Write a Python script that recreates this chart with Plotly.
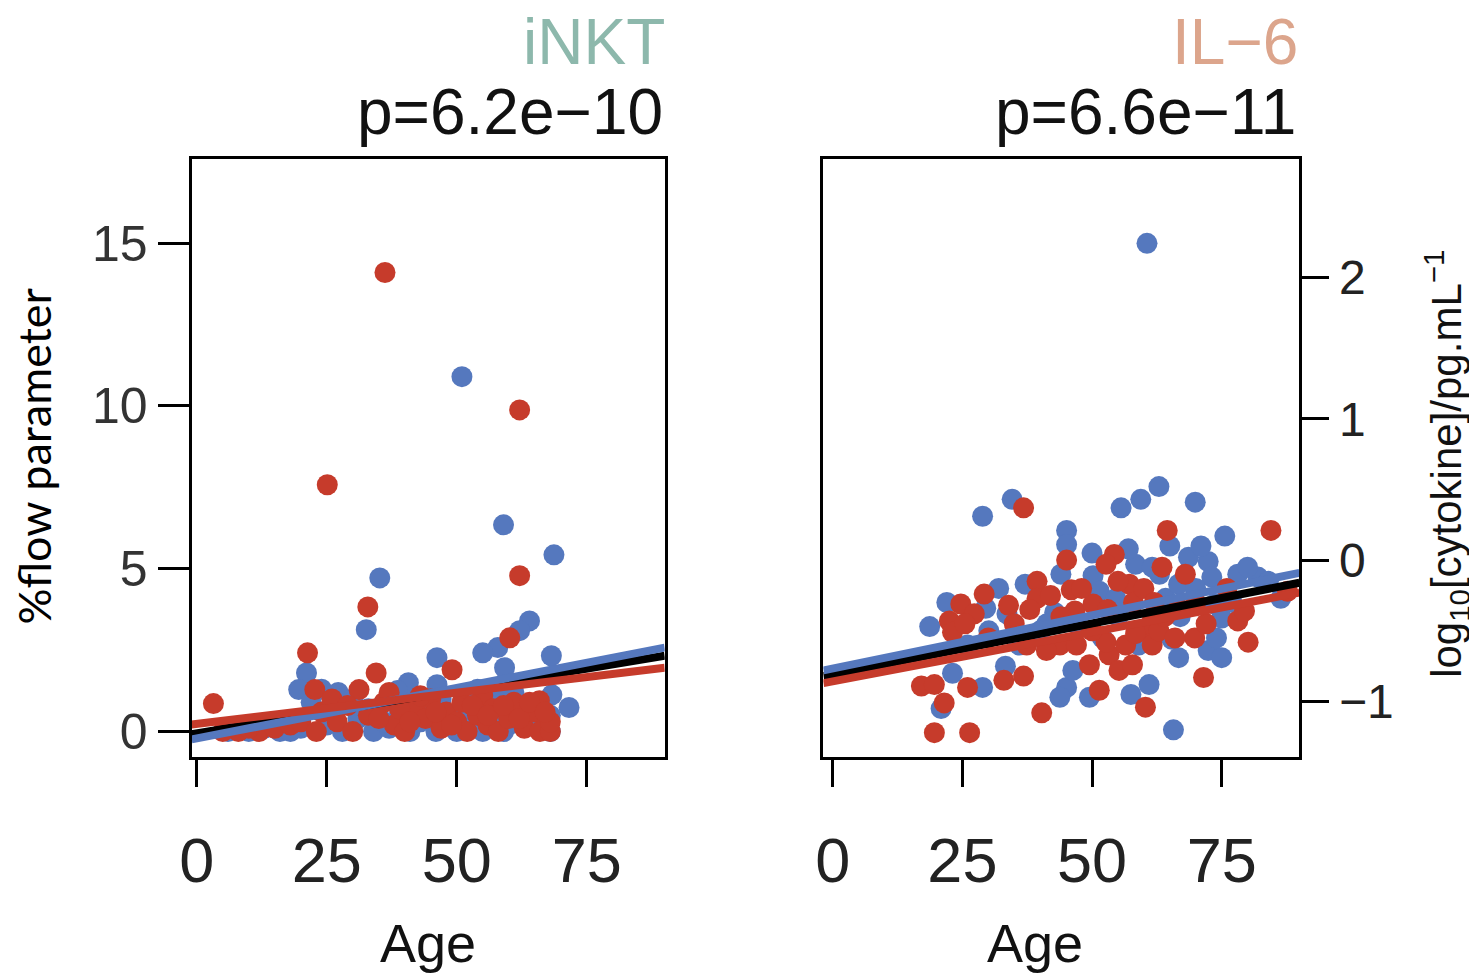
import plotly.graph_objects as go

# --- iNKT panel (left): age vs % flow parameter ---
inkt_red_age = [36.2, 25.1, 62.1, 62.1, 32.9, 3.2, 21.3, 34.5, 60.2, 49.1, 22.7, 31.2, 65.9,
                24, 27, 30, 33, 36, 38, 40, 42, 44, 45, 47, 48, 50, 51, 52, 54, 55, 56,
                57, 58, 60, 61, 63, 65, 66, 68, 68, 12, 15, 18, 8,
                26, 29, 35, 37, 39, 41, 43, 46, 49, 53, 56, 59, 62, 64, 67, 20, 23, 10, 5]
inkt_red_val = [14.1, 7.58, 9.88, 4.79, 3.83, 0.86, 2.42, 1.8, 2.88, 1.9, 1.29, 1.29, 0.95,
                0.6, 0.3, 0.0, 0.5, 0.9, 0.2, 0.0, 0.7, 0.4, 1.0, 0.1, 0.6, 0.3, 0.9, 0.0, 0.5, 1.1, 0.2,
                0.7, 0.0, 0.4, 0.9, 0.1, 0.6, 0.0, 0.0, 0.3, 0.0, 0.1, 0.2, 0.0,
                1.0, 0.8, 0.4, 1.2, 0.7, 0.3, 1.1, 0.6, 0.2, 0.8, 0.5, 0.8, 0.4, 0.9, 0.6, 0.3, 0.0, 0.1, 0.0]
inkt_blue_age = [51.0, 59.0, 68.7, 35.2, 32.6, 64.0, 62.1, 57.9, 55.0, 46.2, 68.2, 59.2, 21.1,
                 19.6, 27.2, 40.7, 38.6, 46.2, 71.6, 68.3,
                 22, 25, 28, 31, 34, 37, 39, 41, 43, 46, 49, 50, 53, 55, 57, 59, 61, 63,
                 65, 68, 68, 10, 16, 20,
                 24, 30, 33, 36, 40, 44, 47, 52, 54, 56, 58, 60, 62, 66, 67, 6, 13, 18]
inkt_blue_val = [10.9, 6.35, 5.43, 4.72, 3.13, 3.4, 3.1, 2.58, 2.42, 2.27, 2.33, 1.96, 1.8,
                 1.29, 1.2, 1.5, 1.26, 1.44, 0.74, 1.13,
                 0.9, 0.2, 0.0, 0.4, 0.0, 0.1, 0.6, 0.0, 0.3, 0.0, 0.5, 0.0, 0.8, 0.0, 0.3, 0.0, 1.2, 0.5,
                 0.2, 0.0, 0.5, 0.0, 0.0, 0.1,
                 1.3, 1.0, 0.7, 0.3, 0.9, 0.6, 1.0, 0.4, 1.3, 0.7, 1.1, 0.2, 0.8, 0.9, 0.1, 0.0, 0.1, 0.0]
inkt_fit_age = [-1, 90]
inkt_fit_all = [-0.08, 2.33]
inkt_fit_blue = [-0.24, 2.58]
inkt_fit_red = [0.22, 1.96]

# --- IL-6 panel (right): age vs log10 cytokine ---
il6_red_age = [19.6, 26.4, 84.5, 36.8, 64.5, 45.1, 54.3, 52.7, 63.5, 87.7, 39.4, 39.4, 46.0,
               57.2, 29.2, 24.7, 33.9, 22.5, 23.1, 46.7, 50.2, 61.6, 59.7, 78.1, 80.1, 71.5,
               17.1, 19.6, 21.5, 26.0, 33.0, 36.8, 40.3, 51.4, 49.5, 53.3, 55.2, 57.8, 60.3,
               43.8, 47.0, 37.4, 41.2, 52.7, 56.5, 58.4, 61.6, 62.9, 69.8, 66.7, 79.4, 27.3, 25.5,
               30, 35, 38, 42, 44, 48, 50, 53, 55, 58, 60, 62, 64, 66, 68, 70, 72, 76]
il6_red_val = [-1.22, -1.22, 0.21, 0.37, 0.21, 0.0, 0.04, -0.03, -0.05, -0.22, -0.15, -0.27, -0.21,
               -0.17, -0.24, -0.31, -0.32, -0.43, -0.51, -0.36, -0.31, -0.43, -0.5, -0.43, -0.58, -0.83,
               -0.89, -0.88, -1.01, -0.9, -0.85, -0.82, -1.08, -0.92, -0.74, -0.67, -0.78, -0.74, -1.04,
               -0.6, -0.6, -0.6, -0.64, -0.58, -0.6, -0.52, -0.6, -0.5, -0.55, -0.34, -0.36, -0.38, -0.45,
               -0.55, -0.45, -0.35, -0.25, -0.4, -0.2, -0.5, -0.35, -0.15, -0.3, -0.2, -0.3, -0.4, -0.55,
               -0.1, -0.3, -0.45, -0.2]
il6_blue_age = [60.6, 65.7, 28.9, 34.6, 55.6, 59.4, 62.9, 69.9, 75.6, 45.1, 45.1, 58.4, 61.6,
                68.6, 72.4, 73.1, 78.1, 82.0, 86.4, 37.1, 50.2, 51.4, 29.5, 33.6, 18.7, 42.8,
                41.3, 75.0, 65.4, 66.7, 72.4, 75.0, 20.9, 28.9, 33.3, 23.1, 45.1, 43.8, 49.5,
                46.3, 57.5, 61.0, 54.6, 64.2, 66.7, 73.7, 30.1,
                32, 36, 40, 44, 47, 50, 52, 55, 57, 59, 63, 65, 67, 70, 71, 74, 77, 80, 84, 26, 22]
il6_blue_val = [2.24, -1.2, 0.31, 0.43, 0.37, 0.43, 0.52, 0.41, 0.17, 0.21, 0.11, -0.03, -0.05,
                0.02, -0.01, -0.12, -0.1, -0.12, -0.27, -0.17, -0.11, -0.22, -0.34, -0.38, -0.47, -0.37,
                -0.45, -0.41, -0.56, -0.69, -0.64, -0.69, -1.05, -0.9, -0.75, -0.8, -0.9, -0.97, -0.97,
                -0.78, -0.95, -0.88, -0.27, -0.27, -0.17, -0.31, -0.5,
                -0.2, -0.6, -0.5, -0.1, -0.45, 0.05, -0.55, -0.4, 0.08, -0.6, -0.1, 0.1, -0.4, -0.2,
                0.1, -0.55, -0.3, -0.05, -0.15, -0.6, -0.3]
il6_fit_age = [-1.8, 90]
il6_fit_all = [-0.82, -0.16]
il6_fit_blue = [-0.78, -0.09]
il6_fit_red = [-0.87, -0.23]

RED = '#C63B2B'
BLUE = '#5578BE'
FONT = 'Liberation Sans, Arial, sans-serif'

# the page body adds a margin, so the figure is laid out in screen px minus an offset
W, H = 1469, 969
OFF = 8


def px(xs):
    return (xs - OFF) / W


def py(ys):
    return 1 - (ys - OFF) / H


fig = go.Figure()


def add_panel(xa, ya, red_x, red_y, blue_x, blue_y, fit_x, fit_all, fit_blue, fit_red):
    fig.add_trace(go.Scatter(x=blue_x, y=blue_y, mode='markers', xaxis=xa, yaxis=ya,
                             marker=dict(color=BLUE, size=21, line=dict(width=0)), showlegend=False))
    fig.add_trace(go.Scatter(x=red_x, y=red_y, mode='markers', xaxis=xa, yaxis=ya,
                             marker=dict(color=RED, size=21, line=dict(width=0)), showlegend=False))
    for vals, col in [(fit_all, 'black'), (fit_blue, BLUE), (fit_red, RED)]:
        fig.add_trace(go.Scatter(x=fit_x, y=vals, mode='lines', xaxis=xa, yaxis=ya,
                                 line=dict(color=col, width=8), showlegend=False))


add_panel('x', 'y', inkt_red_age, inkt_red_val, inkt_blue_age, inkt_blue_val,
          inkt_fit_age, inkt_fit_all, inkt_fit_blue, inkt_fit_red)
add_panel('x2', 'y2', il6_red_age, il6_red_val, il6_blue_age, il6_blue_val,
          il6_fit_age, il6_fit_all, il6_fit_blue, il6_fit_red)

ydom = [py(759), py(159)]

xcommon = dict(showgrid=False, zeroline=False, showline=True, linecolor='black', linewidth=3,
               mirror=True, ticks='outside', ticklen=27, tickwidth=3, tickcolor='black',
               tickvals=[0, 25, 50, 75], tickfont=dict(family=FONT, size=63, color='#222'),
               ticklabelstandoff=20)
ycommon = dict(showgrid=False, zeroline=False, showline=True, linecolor='black', linewidth=3,
               mirror=True, ticks='outside', tickwidth=3, tickcolor='black')

fig.update_layout(
    width=W, height=H,
    margin=dict(l=0, r=0, t=0, b=0),
    paper_bgcolor='white', plot_bgcolor='white',
    xaxis=dict(domain=[px(181), px(658)], range=[-1, 90], anchor='y', **xcommon),
    xaxis2=dict(domain=[px(818), px(1298)], range=[-1.8, 90], anchor='y2', **xcommon),
    yaxis=dict(domain=ydom, range=[-0.77, 17.6], anchor='x', tickvals=[0, 5, 10, 15],
               ticklen=31, tickfont=dict(family=FONT, size=50, color='#333'), **ycommon),
    yaxis2=dict(domain=ydom, range=[-1.39, 2.84], anchor='x2', side='right', tickvals=[-1, 0, 1, 2],
                ticktext=['\u22121', '0', '1', '2'],
                ticklen=27, tickfont=dict(family=FONT, size=48, color='#222'),
                ticklabelstandoff=0, **ycommon),
)

annots = [
    dict(x=px(660), y=py(42), text='iNKT', font=dict(family=FONT, size=64, color='#8DB8AC'),
         xanchor='right'),
    dict(x=px(658), y=py(112), text='p=6.2e\u221210', font=dict(family=FONT, size=64, color='#111'),
         xanchor='right'),
    dict(x=px(1299), y=py(42), text='IL\u22126', font=dict(family=FONT, size=64, color='#DCA58C'),
         xanchor='right'),
    dict(x=px(1297), y=py(112), text='p=6.6e\u221211', font=dict(family=FONT, size=64, color='#111'),
         xanchor='right'),
    dict(x=px(419), y=py(946), text='Age', font=dict(family=FONT, size=54, color='#111'),
         xanchor='center'),
    dict(x=px(1031), y=py(946), text='Age', font=dict(family=FONT, size=54, color='#111'),
         xanchor='center'),
    dict(x=px(22), y=py(457), text='%flow parameter', textangle=-90, xanchor='center',
         font=dict(family='Lato, Open Sans, sans-serif', size=45, color='black')),
    dict(x=px(1446), y=py(465), text='log<sub>10</sub>[cytokine]/pg.mL<sup>\u22121</sup>',
         textangle=-90, xanchor='center', font=dict(family=FONT, size=42, color='#111')),
]
for a in annots:
    fig.add_annotation(xref='paper', yref='paper', showarrow=False, yanchor='middle', **a)

fig.write_html("out.html")
